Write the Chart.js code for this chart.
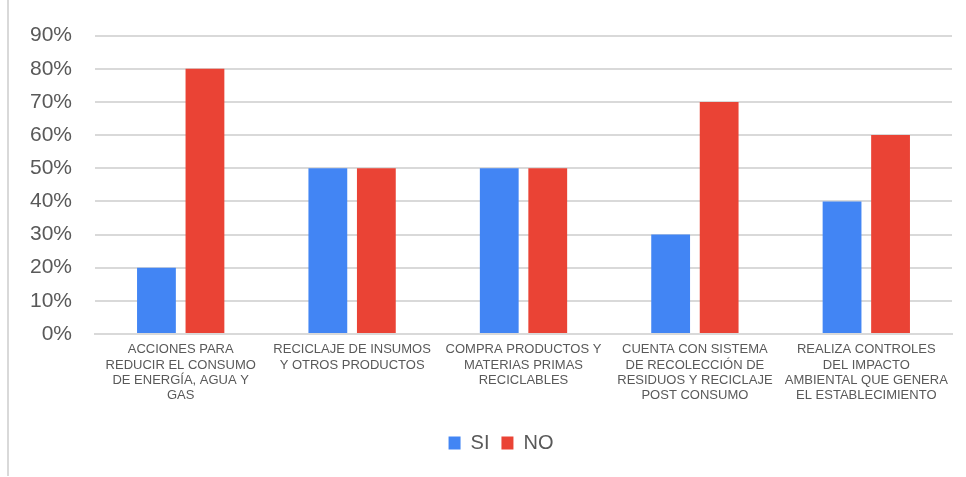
<!DOCTYPE html>
<html>
<head>
<meta charset="utf-8">
<script src="https://cdn.jsdelivr.net/npm/chart.js@4"></script>
<style>
  html,body{margin:0;padding:0;background:#fff;}
  #wrap{position:relative;width:966px;height:477px;}
  #frame{position:absolute;left:7px;top:0;width:2px;height:476px;background:#d9d9d9;}
  canvas{position:absolute;left:0;top:0;}
</style>
</head>
<body>
<div id="wrap">
  <div id="frame"></div>
  <canvas id="chart" width="966" height="477"></canvas>
</div>
<script>
// categorías (líneas de cada etiqueta)
const categories = [
  ['ACCIONES PARA', 'REDUCIR EL CONSUMO', 'DE ENERGÍA, AGUA Y', 'GAS'],
  ['RECICLAJE DE INSUMOS', 'Y OTROS PRODUCTOS'],
  ['COMPRA PRODUCTOS Y', 'MATERIAS PRIMAS', 'RECICLABLES'],
  ['CUENTA CON SISTEMA', 'DE RECOLECCIÓN DE', 'RESIDUOS Y RECICLAJE', 'POST CONSUMO'],
  ['REALIZA CONTROLES', 'DEL IMPACTO', 'AMBIENTAL QUE GENERA', 'EL ESTABLECIMIENTO']
];
const siValues = [20, 50, 50, 30, 40];
const noValues = [80, 50, 50, 70, 60];
const seriesNames = ['SI', 'NO'];
const yMax = 90, yStep = 10;

const grey = '#595959';
const gridColor = '#d9d9d9';
const font = '"Liberation Sans", Arial, sans-serif';

// la leyenda de Excel va centrada un poco más a la derecha
const legendShift = {
  id: 'legendShift',
  afterLayout(chart){ if (chart.legend) chart.legend.left += 50; }
};

new Chart(document.getElementById('chart'), {
  type: 'bar',
  data: {
    labels: categories,
    datasets: [
      { label: seriesNames[0], data: siValues, backgroundColor: '#4285F4' },
      { label: seriesNames[1], data: noValues, backgroundColor: '#EA4335' }
    ]
  },
  options: {
    responsive: false,
    animation: false,
    devicePixelRatio: 1,
    categoryPercentage: 0.566,
    barPercentage: 0.8,
    layout: { padding: { top: 35, right: 14, left: 0, bottom: 14 } },
    plugins: {
      tooltip: { enabled: false },
      legend: {
        position: 'bottom',
        labels: {
          boxWidth: 12, boxHeight: 13, padding: 12,
          color: grey,
          font: { family: font, size: 20 }
        }
      }
    },
    scales: {
      x: {
        grid: { display: false, drawTicks: false },
        border: { display: true, color: gridColor, width: 2 },
        ticks: {
          color: grey, padding: 8, maxRotation: 0, autoSkip: false,
          font: { family: font, size: 13, lineHeight: 1.18 }
        },
        afterFit: s => { s.height = 87; }
      },
      y: {
        min: 0, max: yMax,
        grid: { color: gridColor, lineWidth: 2, drawTicks: false },
        border: { display: false },
        ticks: {
          stepSize: yStep, color: grey, padding: 23,
          font: { family: font, size: 21 },
          callback: v => v + '%'
        },
        afterFit: s => { s.width = 95; }
      }
    }
  },
  plugins: [legendShift]
});
</script>
</body>
</html>
